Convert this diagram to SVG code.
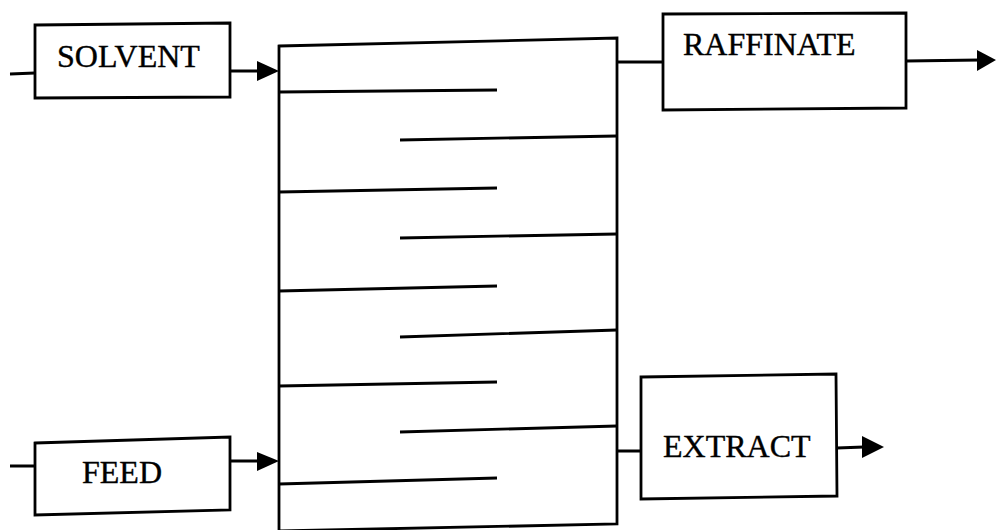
<svg xmlns="http://www.w3.org/2000/svg" width="996" height="530" viewBox="0 0 996 530">
<defs>
<style>
.ln{stroke:#000;stroke-width:2.8;fill:none;stroke-linecap:butt}
.bx{stroke:#000;stroke-width:2.8;fill:#fff;stroke-linejoin:miter}
.tx{font-family:"Liberation Serif","Times New Roman",serif;font-size:32px;fill:#000;stroke:#000;stroke-width:0.4}
.ah{fill:#000;stroke:none}
</style>
</defs>
<rect width="996" height="530" fill="#fff"/>
<g id="column">
<path class="bx" d="M279,46 L617,38 L617,524 L279,531 Z"/>
<path class="ln" d="M279,92 L497,90 M400,140 L617,136 M279,192 L497,188 M400,238 L617,234 M279,291 L497,286 M400,337 L617,330 M279,386 L497,382 M400,432 L617,426 M279,484 L497,478"/>
</g>
<g id="solvent">
<path class="bx" d="M35,25 L230,23 L230,97 L35,98 Z"/>
<text class="tx" x="57" y="67">SOLVENT</text>
</g>
<g id="feed">
<path class="bx" d="M35,443 L230,437 L230,510 L35,515 Z"/>
<text class="tx" x="82" y="483">FEED</text>
</g>
<g id="raffinate">
<path class="bx" d="M663,14 L906,13 L906,108 L663,110 Z"/>
<text class="tx" x="683" y="55">RAFFINATE</text>
</g>
<g id="extract">
<path class="bx" d="M641,377 L836,374 L837,496 L641,499 Z"/>
<text class="tx" x="663" y="457">EXTRACT</text>
</g>
<g id="connectors">
<path class="ln" d="M10,74 L35,73 M230,71 L260,71 M10,466 L35,466 M230,461 L260,461 M617,62 L663,62 M906,61 L980,60 M617,451 L641,451 M837,448 L864,447"/>
<polygon class="ah" points="257,61 279,71 257,81"/>
<polygon class="ah" points="257,452 279,461 257,471"/>
<polygon class="ah" points="977,50 996,60 977,71"/>
<polygon class="ah" points="862,436 884,447 862,458"/>
</g>
</svg>
